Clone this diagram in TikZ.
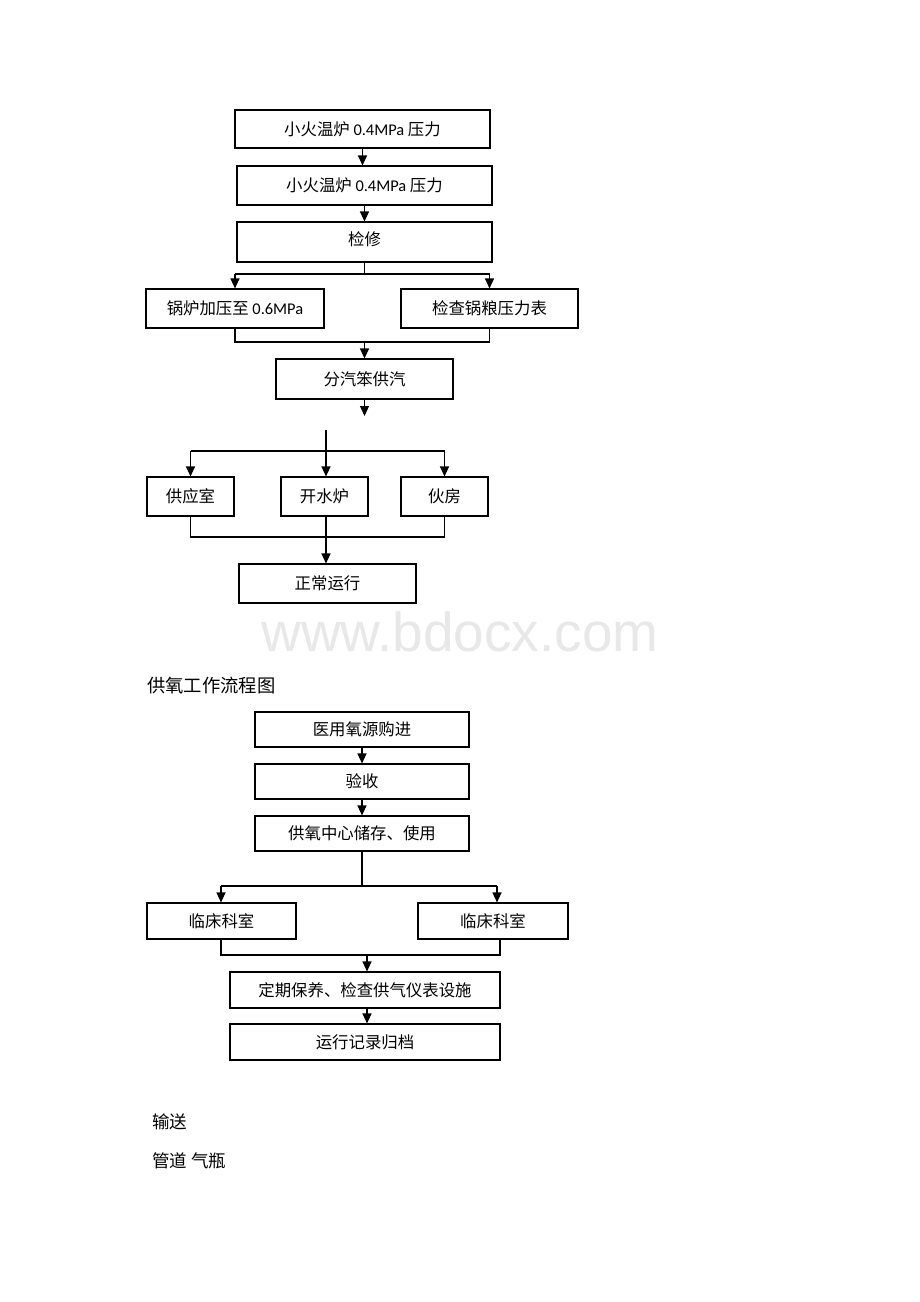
\documentclass[tikz,border=0pt]{standalone}
\usepackage{fontspec}
\setmainfont{Noto Sans CJK SC}
\newfontfamily\lat{Carlito}
\newfontfamily\wm{Liberation Sans}
\usetikzlibrary{arrows.meta}
\begin{document}
\begin{tikzpicture}[x=1pt,y=-1pt,
  bx/.style={draw=black,line width=1.1pt,inner sep=0pt,font=\fontsize{16.4}{19}\selectfont},
  ln/.style={line width=1.1pt},
  arr/.style={line width=1.1pt,-{Triangle[width=9pt,length=10pt]}},
  txt/.style={anchor=west,inner sep=0pt,font=\fontsize{17.5}{20}\selectfont}]
\useasboundingbox[fill=white] (0,0) rectangle (920,1302);
% first chart
\node[bx,minimum width=255pt,minimum height=38pt] (b1) at (362.5,129) {小火温炉 {\lat 0.4MPa} 压力};
\node[bx,minimum width=255pt,minimum height=39pt] (b2) at (364.5,185.5) {小火温炉 {\lat 0.4MPa} 压力};
\node[bx,minimum width=255pt,minimum height=40pt,text depth=6pt] (b3) at (364.5,242) {检修};
\node[bx,minimum width=178pt,minimum height=39pt] (b4) at (235,308.5) {锅炉加压至 {\lat 0.6MPa}};
\node[bx,minimum width=177pt,minimum height=39pt] (b5) at (489.5,308.5) {检查锅粮压力表};
\node[bx,minimum width=177pt,minimum height=40pt] (b6) at (364.5,379) {分汽笨供汽};
\node[bx,minimum width=87pt,minimum height=39pt] (b7) at (190.5,496.5) {供应室};
\node[bx,minimum width=87pt,minimum height=39pt] (b8) at (324.5,496.5) {开水炉};
\node[bx,minimum width=87pt,minimum height=39pt] (b9) at (444.5,496.5) {伙房};
\node[bx,minimum width=177pt,minimum height=39pt] (b10) at (327.5,583.5) {正常运行};
\draw[arr] (b1.south) -- (b1.south |- b2.north);
\draw[arr] (b2.south) -- (b2.south |- b3.north);
\coordinate (j1) at (364.5,274);
\draw[ln] (b3.south) -- (j1);
\draw[ln] (b4.north |- j1) -- (b5.north |- j1);
\draw[arr] (b4.north |- j1) -- (b4.north);
\draw[arr] (b5.north |- j1) -- (b5.north);
\coordinate (j2) at (364.5,342);
\draw[ln] (b4.south) -- (b4.south |- j2) -- (b5.south |- j2) -- (b5.south);
\draw[arr] (j2) -- (j2 |- b6.north);
\coordinate (e6) at (364.5,416);
\draw[arr] (b6.south) -- (e6);
\coordinate (t8) at (326,430);
\coordinate (h1) at (326,451);
\draw[ln] (b7.north |- h1) -- (b9.north |- h1);
\draw[arr] (t8) -- (t8 |- b8.north);
\draw[arr] (b7.north |- h1) -- (b7.north);
\draw[arr] (b9.north |- h1) -- (b9.north);
\coordinate (j3) at (326,537);
\draw[ln] (b7.south) -- (b7.south |- j3) -- (b9.south |- j3) -- (b9.south);
\draw[arr] (t8 |- b8.south) -- (t8 |- b10.north);
% watermark
\node[font=\wm\fontsize{55}{60}\selectfont,text=black!9] (wmk) at (460,632) {www.bdocx.com};
% title
\node[txt,font=\fontsize{18.3}{21}\selectfont] (title) at (147,686) {供氧工作流程图};
% second chart
\node[bx,minimum width=214pt,minimum height=35pt] (a) at (362,729.5) {医用氧源购进};
\node[bx,minimum width=214pt,minimum height=35pt] (b) at (362,781.5) {验收};
\node[bx,minimum width=214pt,minimum height=35pt] (c) at (362,833.5) {供氧中心储存、使用};
\node[bx,minimum width=149pt,minimum height=36pt] (d) at (221.5,921) {临床科室};
\node[bx,minimum width=150pt,minimum height=36pt] (e) at (493,921) {临床科室};
\node[bx,minimum width=270pt,minimum height=36pt] (f) at (365,990) {定期保养、检查供气仪表设施};
\node[bx,minimum width=270pt,minimum height=36pt] (g) at (365,1042) {运行记录归档};
\draw[arr] (a.south) -- (b.north);
\draw[arr] (b.south) -- (c.north);
\coordinate (k1) at (362,886);
\coordinate (dl) at (221,886);
\coordinate (dr) at (497,886);
\draw[ln] (c.south) -- (k1);
\draw[ln] (dl) -- (dr);
\draw[arr] (dl) -- (dl |- d.north);
\draw[arr] (dr) -- (dr |- e.north);
\coordinate (k2) at (367,955);
\coordinate (el) at (221,955);
\coordinate (er) at (500,955);
\draw[ln] (el |- d.south) -- (el) -- (er) -- (er |- e.south);
\draw[arr] (k2) -- (k2 |- f.north);
\draw[arr] (k2 |- f.south) -- (k2 |- g.north);
% bottom text
\node[txt] (t1) at (152,1122) {输送};
\node[txt] (t2) at (152,1161) {管道 气瓶};
\end{tikzpicture}
\end{document}
